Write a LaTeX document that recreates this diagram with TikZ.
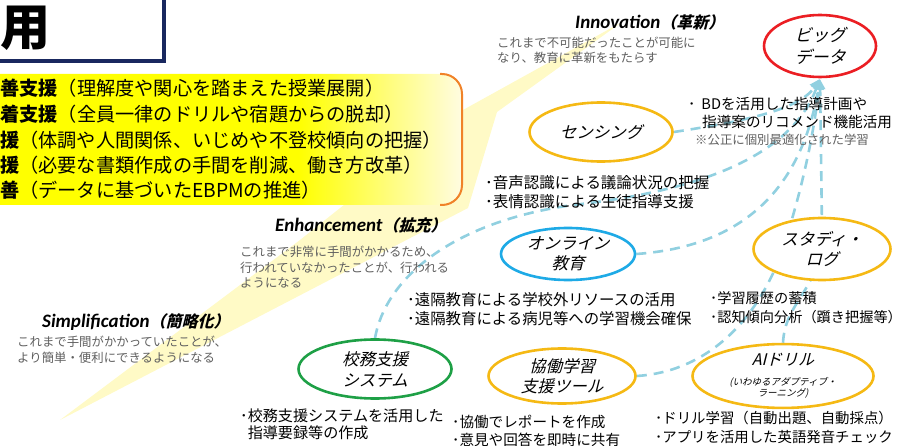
\documentclass[tikz,border=0pt]{standalone}
\usepackage{fontspec}
\setmainfont{Noto Sans CJK JP}
\newfontfamily\jpit{Noto Sans CJK JP}[FakeSlant=0.25]
\newfontfamily\carl{Carlito}
\usetikzlibrary{shapes.geometric,arrows.meta}
\definecolor{cnavy}{RGB}{25,40,95}
\definecolor{corg}{RGB}{240,130,40}
\definecolor{cgold}{RGB}{245,185,20}
\definecolor{cblue}{RGB}{30,170,230}
\definecolor{cgreen}{RGB}{30,160,70}
\definecolor{cred}{RGB}{235,30,35}
\definecolor{cdash}{RGB}{145,208,224}
\definecolor{cband}{RGB}{255,246,160}
\definecolor{yfull}{RGB}{255,255,0}
\definecolor{ypale}{RGB}{255,252,225}
\definecolor{cgray}{RGB}{95,95,95}
\pgfdeclarehorizontalshading{yfade}{100bp}{color(0bp)=(yfull); color(25bp)=(yfull); color(58bp)=(yfull); color(75bp)=(ypale); color(100bp)=(ypale)}
\pgfdeclarelayer{bg}
\pgfsetlayers{bg,main}
\newcommand{\myhead}[2]{{\carl\bfseries\itshape\fontsize{19}{22}\selectfont #1}{\jpit\bfseries\fontsize{16}{20}\selectfont （#2）}}
\tikzset{
  ell/.style={ellipse, draw=#1, line width=2.6pt, fill=white, inner sep=0pt, align=center, font=\jpit\fontsize{16.5}{21}\selectfont},
  conn/.style={draw=cdash, line width=2.6pt, dash pattern=on 10pt off 7pt, shorten >=1pt, -{Triangle[length=10pt,width=10pt]}},
  ytext/.style={anchor=west, inner sep=0pt, font=\fontsize{19.2}{24}\selectfont},
  head/.style={anchor=west, inner sep=0pt},
  desc/.style={anchor=west, inner sep=0pt, align=left, text=cgray, font=\fontsize{12.4}{15.5}\selectfont},
  bul/.style={anchor=west, inner sep=0pt, align=left, font=\fontsize{#1}{19}\selectfont},
}
\begin{document}
\begin{tikzpicture}[x=1pt,y=-1pt]
\useasboundingbox (0,0) rectangle (912,446);
\clip (0,0) rectangle (912,446);
% background
\begin{pgfonlayer}{bg}
  \fill[cband, opacity=0.6] (60,420) -- (468,208) -- (497,112) -- (622,22) -- (463,110) -- (300,240) -- cycle;
  \shade[shading=yfade, rounded corners=20pt] (-20,74) rectangle (462,205);
  \draw[corg, line width=2pt, rounded corners=20pt] (440,74) -- (462,74) -- (462,205) -- (440,205);
  \draw[cnavy, line width=3.5pt, fill=white] (-20,-20) rectangle (164,61);
\end{pgfonlayer}
\node[inner sep=0pt, font=\fontsize{50}{50}\selectfont\bfseries] (ttl) at (25,28) {用};
% ellipses
\node[ell=cred, minimum width=112pt, minimum height=62pt, font=\jpit\fontsize{17}{22}\selectfont] (bd) at (820,46) {ビッグ\\データ};
\node[ell=cgold, minimum width=143pt, minimum height=59pt] (sens) at (601,132) {センシング};
\node[ell=cblue, minimum width=134pt, minimum height=52pt, font=\jpit\fontsize{16.5}{20}\selectfont] (online) at (568,254) {オンライン\\教育};
\node[ell=cgold, minimum width=137pt, minimum height=62pt, font=\jpit\fontsize{16.5}{20}\selectfont] (study) at (822,249) {スタディ・\\ログ};
\node[ell=cgreen, minimum width=153pt, minimum height=59pt] (komu) at (375,369) {校務支援\\システム};
\node[ell=cgold, minimum width=147pt, minimum height=55pt, font=\jpit\fontsize{16.5}{20}\selectfont] (kyodo) at (562,376) {協働学習\\支援ツール};
\node[ell=cgold, minimum width=181pt, minimum height=53pt, font=\jpit\fontsize{16}{20}\selectfont] (ai) at (783,376) {AIドリル\\{\fontsize{9.5}{11}\selectfont (いわゆるアダプティブ・}\\[-9pt]{\fontsize{9.5}{11}\selectfont ラーニング)}};
% connectors
\begin{pgfonlayer}{bg}
  \draw[conn] (komu.north) .. controls (385,280) and (450,222) .. (573,205) .. controls (690,192) and (790,160) .. (bd.south);
  \draw[conn] (online.east) .. controls (720,248) and (798,210) .. (bd.south);
  \draw[conn] (sens.east) .. controls (740,122) and (800,110) .. (bd.south);
  \draw[conn] (kyodo.east) .. controls (700,372) and (750,330) .. (778,262) .. controls (795,215) and (812,150) .. (bd.south);
  \draw[conn] (ai.north) .. controls (785,300) and (822,290) .. (822,230) -- (bd.south);
\end{pgfonlayer}
% yellow box text
\node[ytext] (y1) at (0,88) {\textbf{善支援}（理解度や関心を踏まえた授業展開）};
\node[ytext] (y2) at (0,114) {\textbf{着支援}（全員一律のドリルや宿題からの脱却）};
\node[ytext] (y3) at (0,140) {\textbf{援}（体調や人間関係、いじめや不登校傾向の把握）};
\node[ytext] (y4) at (0,165) {\textbf{援}（必要な書類作成の手間を削減、働き方改革）};
\node[ytext] (y5) at (0,190) {\textbf{善}（データに基づいたEBPMの推進）};
% headings
\node[head] (hinno) at (575,22) {\myhead{Innovation}{革新}};
\node[desc] (dinno) at (497,50.5) {これまで不可能だったことが可能に\\なり、教育に革新をもたらす};
\node[head] (henh) at (275,225) {\myhead{Enhancement}{拡充}};
\node[desc] (denh) at (240,267.5) {これまで非常に手間がかかるため、\\行われていなかったことが、行われる\\ようになる};
\node[head] (hsim) at (42,322) {\myhead{Simplification}{簡略化}};
\node[desc] (dsim) at (17,350) {これまで手間がかかっていたことが、\\より簡単・便利にできるようになる};
% bullets
\node[bul=14.6] (bdt1) at (688,104) {･\hspace{6pt}BDを活用した指導計画や};
\node[bul=14.6] (bdt2) at (702,122) {指導案のリコメンド機能活用};
\node[desc] (bdn) at (695,140) {※公正に個別最適化された学習};
\node[bul=15.5] (sbul) at (485,192) {･音声認識による議論状況の把握\\･表情認識による生徒指導支援};
\node[bul=15.4] (obul) at (407,309.5) {･遠隔教育による学校外リソースの活用\\･遠隔教育による病児等への学習機会確保};
\node[bul=14.2] (stbul) at (710,307.5) {･学習履歴の蓄積\\･認知傾向分析（躓き把握等）};
\node[bul=15.1, font=\fontsize{15.1}{17}\selectfont] (kbul) at (240,424.5) {･校務支援システムを活用した\\\phantom{･}指導要録等の作成};
\node[bul=14.6, font=\fontsize{14.6}{18}\selectfont] (kybul) at (452,431) {･協働でレポートを作成\\･意見や回答を即時に共有};
\node[bul=14.4] (aibul) at (655,427.5) {･ドリル学習（自動出題、自動採点）\\･アプリを活用した英語発音チェック};
\end{tikzpicture}
\end{document}
